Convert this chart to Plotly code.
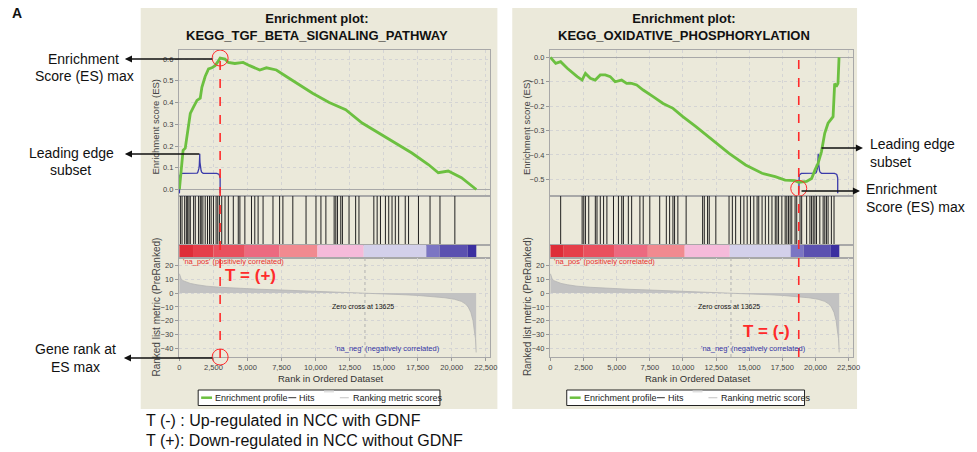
import plotly.graph_objects as go

W, H = 977, 452
FONT = "Liberation Sans, Arial, sans-serif"

# ---------------- data ----------------
tgf_es_rank = [0, 120, 270, 430, 680, 800, 1040, 1290, 1530, 1650, 1890, 2140, 2380, 2620, 2790, 2990,
               3350, 3590, 4070, 4680, 5160, 5900, 6390, 7120, 7850, 8580, 9780, 11000, 12210, 13420,
               14640, 15860, 17070, 18280, 19010, 19740, 20220, 20710, 21800]
tgf_es = [0.0, 0.07, 0.18, 0.19, 0.29, 0.35, 0.38, 0.41, 0.42, 0.47, 0.52, 0.555, 0.56, 0.57, 0.585, 0.605,
          0.60, 0.585, 0.58, 0.585, 0.57, 0.55, 0.56, 0.55, 0.52, 0.49, 0.443, 0.40, 0.367, 0.306,
          0.26, 0.214, 0.168, 0.115, 0.077, 0.085, 0.07, 0.054, 0.0]
tgf_hits = [73, 194, 388, 510, 607, 704, 801, 1044, 1165, 1408, 1530, 1602, 1724, 1894, 2064, 2209, 2331,
            2501, 2695, 2816, 2938, 3108, 3351, 3593, 3958, 4322, 4443, 4807, 5293, 5536, 5779, 6143,
            6871, 7357, 7600, 8328, 9299, 10028, 10392, 10756, 11363, 11484, 11606, 11849, 11970, 12456,
            12941, 13184, 14277, 14520, 14763, 15127, 15370, 15612, 15855, 16098, 16583, 16826, 17554,
            18404, 19133, 20225]

ox_es_rank = [0, 400, 770, 1270, 2020, 2390, 2640, 3010, 3380, 3760, 4140, 4510, 4880, 5370, 5750, 6130,
              6510, 7000, 7750, 8500, 9250, 9990, 10980, 12230, 13480, 14730, 15970, 16960, 17710, 18450,
              18740, 19330, 19710, 19960, 20200, 20450, 20700, 20950, 21200, 21330, 21450, 21570, 21700, 21780]
ox_es = [0.0, -0.025, -0.018, -0.045, -0.079, -0.093, -0.066, -0.086, -0.093, -0.072, -0.072, -0.079, -0.1,
         -0.093, -0.107, -0.107, -0.113, -0.134, -0.161, -0.189, -0.209, -0.243, -0.284, -0.339, -0.393,
         -0.441, -0.475, -0.489, -0.503, -0.505, -0.512, -0.508, -0.496, -0.462, -0.434, -0.387, -0.311,
         -0.27, -0.25, -0.243, -0.107, -0.12, -0.107, 0.0]
ox_hits = [772, 2392, 2516, 2641, 2890, 3388, 3513, 3762, 4011, 4261, 4759, 5132, 5382, 5506, 5879, 6129,
           6752, 7001, 7499, 8247, 8745, 8994, 9244, 9368, 9617, 10240, 11485, 11611, 11859, 11984, 12482,
           13479, 13728, 13977, 14351, 14600, 14849, 15098, 15348, 15597, 15721, 15971, 16219, 16468,
           16718, 16967, 17091, 17217, 17465, 17714, 17838, 17963, 18088, 18212, 18461, 18587, 18835,
           18960, 19334, 19583, 19707, 19832, 19956, 20081, 20330, 20580, 20704, 20828, 20953, 21202, 21401]

metric_rank = [0, 40, 120, 250, 500, 800, 1300, 2000, 3000, 4000, 5000, 6000, 7500, 9000, 10500, 12000,
               13000, 13625, 14500, 15500, 16500, 17500, 18500, 19500, 20200, 20700, 21000, 21200, 21400,
               21560, 21680, 21740, 21790]
metric_value = [14.0, 12.5, 10.5, 9.0, 8.0, 7.0, 6.0, 5.0, 4.2, 3.6, 3.1, 2.7, 2.2, 1.7, 1.2, 0.6,
                0.25, 0.0, -0.4, -0.8, -1.2, -1.7, -2.4, -3.4, -4.5, -6.0, -7.8, -10.0, -14.0,
                -20.0, -29.0, -33.0, -43.0]
zero_cross = 13625

bar_start = [0, 1000, 2500, 4800, 7350, 10130, 13530, 18130, 19100, 21160]
bar_end = [1000, 2500, 4800, 7350, 10130, 13530, 18130, 19100, 21160, 21800]
bar_color = ['#de2d38', '#e53f4a', '#e9505e', '#ec6a80', '#f18a90', '#f5bada', '#d3d0ea',
             '#7b75c3', '#5b51b0', '#3b2fa0']

x_ticks = [0, 2500, 5000, 7500, 10000, 12500, 15000, 17500, 20000, 22500]
metric_ticks = [20, 10, 0, -10, -20, -30, -40]

titles = ["Enrichment plot:<br>KEGG_TGF_BETA_SIGNALING_PATHWAY",
          "Enrichment plot:<br>KEGG_OXIDATIVE_PHOSPHORYLATION"]

# ---------------- geometry helpers ----------------
def fx(px):
    return px / W

def fy(py):
    return 1 - py / H

X_RANGE = [-40, 22840]
METRIC_RANGE = [-46.3, 25.4]

panels = [
    dict(es_rank=tgf_es_rank, es=tgf_es, hits=tgf_hits, es_range=[-0.03, 0.642],
         xl=178.5, xr=493, bg=(140, 500), mode="max", title_x=318, ytitle_x=155,
         legend_left=198, legend_w=244, dash_top=59, dash_bot=358),
    dict(es_rank=ox_es_rank, es=ox_es, hits=ox_hits, es_range=[-0.568, 0.03],
         xl=553, xr=859, bg=(515, 863), mode="min", title_x=688, ytitle_x=530,
         legend_left=570, legend_w=240, dash_top=58, dash_bot=357),
]

ES_T, ES_B = 50, 196
HIT_T, HIT_B = 196, 245
BAR_T, BAR_B = 245, 258
MET_T, MET_B = 258, 357

fig = go.Figure()
layout = dict(width=W, height=H, margin=dict(l=0, r=0, t=0, b=0),
              paper_bgcolor="white", plot_bgcolor="white", showlegend=False,
              font=dict(family=FONT, color="#333333"))
shapes, annotations = [], []

AX_LINE = dict(showline=True, mirror=True, linecolor="#a8a8a8", linewidth=1)


def note(x, y, text, xref="paper", yref="paper", xanchor="center", yanchor="middle", **kw):
    d = dict(x=x, y=y, xref=xref, yref=yref, text=text, showarrow=False,
             xanchor=xanchor, yanchor=yanchor)
    d.update(kw)
    return d


def qbez(p0, p1, p2, n=8):
    out = []
    for i in range(1, n + 1):
        t = i / n
        out.append(((1 - t) ** 2 * p0[0] + 2 * (1 - t) * t * p1[0] + t * t * p2[0],
                    (1 - t) ** 2 * p0[1] + 2 * (1 - t) * t * p1[1] + t * t * p2[1]))
    return out


def brace_points(b0, b1, yr, xscale):
    f = lambda fr: yr[0] + fr * (yr[1] - yr[0])
    base, top, peak, bend = f(0.018), f(0.155), f(0.29), f(0.115)
    bm = (b0 + b1) / 2
    rr = xscale
    pts = [(b0, base), (b0, bend)]
    pts += qbez((b0, bend), (b0, top), (b0 + rr, top))
    pts += [(bm - rr, top)]
    pts += qbez((bm - rr, top), (bm, top), (bm, peak))
    pts += qbez((bm, peak), (bm, top), (bm + rr, top))
    pts += [(b1 - rr, top)]
    pts += qbez((b1 - rr, top), (b1, top), (b1, bend))
    pts += [(b1, base)]
    return [q[0] for q in pts], [q[1] for q in pts]


for p, P in enumerate(panels):
    ids = [4 * p + 1, 4 * p + 2, 4 * p + 3, 4 * p + 4]
    names = [("x" if i == 1 else f"x{i}", "y" if i == 1 else f"y{i}") for i in ids]
    keys = [("xaxis" if i == 1 else f"xaxis{i}", "yaxis" if i == 1 else f"yaxis{i}") for i in ids]
    xdom = [fx(P["xl"]), fx(P["xr"])]
    ydoms = [[fy(ES_B), fy(ES_T)], [fy(HIT_B), fy(HIT_T)], [fy(BAR_B), fy(BAR_T)], [fy(MET_B), fy(MET_T)]]

    # beige panel background
    shapes.append(dict(type="rect", xref="paper", yref="paper", x0=fx(P["bg"][0]), x1=fx(P["bg"][1]),
                       y0=fy(409), y1=fy(8), fillcolor="#ebe9da", line=dict(width=0), layer="below"))

    # ---- ES panel
    (xa, ya), (xn, yn) = keys[0], names[0]
    layout[xa] = dict(domain=xdom, range=X_RANGE, anchor=yn, showticklabels=False, ticks="",
                      showgrid=True, gridcolor="#d4d4d4", griddash="dot", dtick=2500, tick0=0,
                      zeroline=False, **AX_LINE)
    layout[ya] = dict(domain=ydoms[0], range=P["es_range"], anchor=xn, dtick=0.1, tick0=0,
                      tickformat=".1f", ticks="outside", ticklen=3, tickcolor="#999999",
                      tickfont=dict(size=7.5, color="#444444"), showgrid=True, gridcolor="#d4d4d4",
                      griddash="dot", zeroline=True, zerolinecolor="#a8a8a8", zerolinewidth=1, **AX_LINE)

    # ---- ES extreme (from data)
    es = P["es"]
    k = es.index(max(es)) if P["mode"] == "max" else es.index(min(es))
    r_ext, es_ext = P["es_rank"][k], es[k]
    if P["mode"] == "max":
        b0, b1 = P["es_rank"][0], r_ext
    else:
        b0, b1 = r_ext, 21680
    bx, by = brace_points(b0, b1, P["es_range"], 250)
    fig.add_trace(go.Scatter(x=bx, y=by, mode="lines", xaxis=xn, yaxis=yn,
                             line=dict(color="#3a3aaa", width=1.3)))
    fig.add_trace(go.Scatter(x=P["es_rank"], y=P["es"], mode="lines", xaxis=xn, yaxis=yn,
                             line=dict(color="#6cc040", width=2.8)))

    # ---- hits panel
    (xa, ya), (xn, yn) = keys[1], names[1]
    layout[xa] = dict(domain=xdom, range=X_RANGE, anchor=yn, showticklabels=False, ticks="",
                      showgrid=False, zeroline=False, **AX_LINE)
    layout[ya] = dict(domain=ydoms[1], range=[0, 1], anchor=xn, showticklabels=False, ticks="",
                      showgrid=False, zeroline=False, **AX_LINE)
    hx, hy = [], []
    for h in P["hits"]:
        hx += [h, h, None]
        hy += [0, 1, None]
    fig.add_trace(go.Scatter(x=hx, y=hy, mode="lines", xaxis=xn, yaxis=yn,
                             line=dict(color="#202020", width=1)))

    # ---- color bar panel
    (xa, ya), (xn, yn) = keys[2], names[2]
    layout[xa] = dict(domain=xdom, range=X_RANGE, anchor=yn, showticklabels=False, ticks="",
                      showgrid=False, zeroline=False, **AX_LINE)
    layout[ya] = dict(domain=ydoms[2], range=[0, 1], anchor=xn, showticklabels=False, ticks="",
                      showgrid=False, zeroline=False, **AX_LINE)
    fig.add_trace(go.Bar(x=[(s + e) / 2 for s, e in zip(bar_start, bar_end)], y=[1] * len(bar_start),
                         width=[e - s for s, e in zip(bar_start, bar_end)],
                         marker=dict(color=bar_color, line=dict(width=0)), xaxis=xn, yaxis=yn))

    # ---- ranked metric panel
    (xa, ya), (xn, yn) = keys[3], names[3]
    layout[xa] = dict(domain=xdom, range=X_RANGE, anchor=yn, tickvals=x_ticks, tickformat=",d",
                      ticks="outside", ticklen=3, tickcolor="#999999", tickfont=dict(size=7.5, color="#444444"),
                      showgrid=True, gridcolor="#d4d4d4", griddash="dot", zeroline=False, **AX_LINE)
    layout[ya] = dict(domain=ydoms[3], range=METRIC_RANGE, anchor=xn, tickvals=metric_ticks,
                      ticks="outside", ticklen=3, tickcolor="#999999", tickfont=dict(size=7.5, color="#444444"),
                      showgrid=True, gridcolor="#d4d4d4", griddash="dot", zeroline=False, **AX_LINE)
    fig.add_trace(go.Scatter(x=metric_rank, y=metric_value, mode="lines", fill="tozeroy",
                             fillcolor="#c2c2c2", line=dict(color="#b4b4b4", width=0.8), xaxis=xn, yaxis=yn))
    shapes.append(dict(type="line", xref=xn, yref=f"{yn} domain", x0=zero_cross, x1=zero_cross, y0=0, y1=1,
                       line=dict(color="#b0b0b0", width=1, dash="dot")))
    annotations += [
        note(100, 22.6, "'na_pos' (positively correlated)", xref=xn, yref=yn, xanchor="left",
             font=dict(size=7.5, color="#e8302f")),
        note(13450, -9.6, "Zero cross at " + str(zero_cross), xref=xn, yref=yn,
             font=dict(size=7, color="#111111")),
        note(15300, -40.3, "'na_neg' (negatively correlated)", xref=xn, yref=yn,
             font=dict(size=7.5, color="#3535a5")),
        note((P["xl"] + P["xr"]) / 2 / W - 0.004, fy(378), "Rank in Ordered Dataset",
             font=dict(size=9.5, color="#333333")),
        note(fx(P["ytitle_x"]), fy(127), "Enrichment score (ES)", textangle=-90,
             font=dict(size=9.5, color="#444444")),
        note(fx(P["ytitle_x"]), fy(307), "Ranked list metric (PreRanked)", textangle=-90,
             font=dict(size=10, color="#444444")),
        note(fx(P["title_x"]), fy(27), "<b>" + titles[p] + "</b>", align="center",
             font=dict(size=13, color="#111111")),
    ]

    xes, yes = names[0]
    shapes.append(dict(type="line", xref=xes, yref="paper", x0=r_ext, x1=r_ext,
                       y0=fy(P["dash_bot"]), y1=fy(P["dash_top"]),
                       line=dict(color="#ff2a2a", width=1.6, dash="dash")))
    off = 0 if P["mode"] == "max" else -6
    shapes.append(dict(type="circle", xref=xes, yref=yes, xsizemode="pixel", ysizemode="pixel",
                       xanchor=r_ext, yanchor=es_ext, x0=-8, x1=8, y0=off - 8, y1=off + 8,
                       line=dict(color="#ff2a2a", width=1)))

    if P["mode"] == "max":
        shapes.append(dict(type="circle", xref=names[3][0], yref=f"{names[3][1]} domain",
                           xsizemode="pixel", ysizemode="pixel", xanchor=r_ext, yanchor=0,
                           x0=-8, x1=8, y0=-8, y1=8, line=dict(color="#ff2a2a", width=1)))
        annotations.append(note(r_ext, fy(275), "<b>T = (+)</b>", xref=xes, xanchor="left", xshift=3,
                                font=dict(size=17, color="#ff2a2a")))
    else:
        annotations.append(note(r_ext, fy(331), "<b>T = (-)</b>", xref=xes, xanchor="right", xshift=-7,
                                font=dict(size=17, color="#ff2a2a")))

    # ---- legend (manual)
    L = P["legend_left"]
    shapes.append(dict(type="rect", xref="paper", yref="paper", x0=fx(L), x1=fx(L + P["legend_w"]),
                       y0=fy(405.5), y1=fy(390), line=dict(color="#222222", width=1), fillcolor="white"))
    for (a, b, col, wdt, yy) in [(3, 14, "#6cc040", 2.5, 397.7), (91, 99, "#333333", 1, 397.7),
                                 (127, 137, "#e0e0e0", 2, 391.5), (143, 152, "#cccccc", 1.2, 397.7)]:
        shapes.append(dict(type="line", xref="paper", yref="paper", x0=fx(L + a), x1=fx(L + b),
                           y0=fy(yy), y1=fy(yy), line=dict(color=col, width=wdt)))
    for (a, t) in [(15, "Enrichment profile"), (100, "Hits"), (154, "Ranking metric scores")]:
        annotations.append(note(fx(L + a), fy(397.7), t, xanchor="left",
                                font=dict(size=9, color="#222222")))


# ---------------- outer annotations ----------------
def arrow(hx_, hy_, tx_, ty_):
    return dict(x=fx(hx_), y=fy(hy_), xref="paper", yref="paper", ax=tx_ - hx_, ay=ty_ - hy_,
                axref="pixel", ayref="pixel", text="", showarrow=True, arrowhead=2, arrowsize=1.1,
                arrowwidth=1.3, arrowcolor="#111111", standoff=0, startstandoff=0)


def txt(x, y, t, size=14, anchor="center"):
    return note(fx(x), fy(y), t, xanchor=anchor, align=anchor, font=dict(size=size, color="#111111"))


annotations += [
    note(fx(8), fy(13), "<b>A</b>", xanchor="left", font=dict(size=14, color="#111111")),
    txt(82, 59, "Enrichment"), txt(83, 76, "Score (ES) max"),
    txt(70, 153, "Leading edge"), txt(69, 170, "subset"),
    txt(74, 349, "Gene rank at"), txt(74, 367, "ES max"),
    arrow(124, 59, 213, 59), arrow(124, 154, 200, 154), arrow(123, 358, 213, 358),
    txt(874, 144, "Leading edge", anchor="left"), txt(874, 162, "subset", anchor="left"),
    txt(870, 189, "Enrichment", anchor="left"), txt(870, 207, "Score (ES) max", anchor="left"),
    arrow(869, 148, 826, 148), arrow(866, 191, 806, 191),
    txt(143, 420, "T (-) : Up-regulated in NCC with GDNF", size=16, anchor="left"),
    txt(143, 440, "T (+): Down-regulated in NCC without GDNF", size=16, anchor="left"),
]

layout["shapes"] = shapes
layout["annotations"] = annotations
fig.update_layout(**layout)
fig.write_html("out.html", config={"displayModeBar": False},
               post_script="document.body.style.margin='0px';")
